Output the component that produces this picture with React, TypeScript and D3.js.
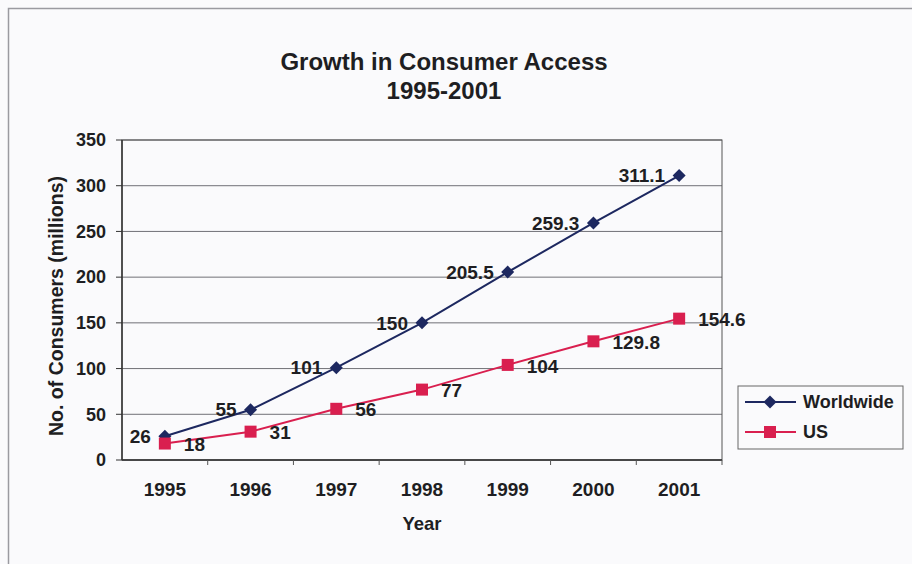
import React from "react";
import * as d3 from "d3";

const years = ["1995", "1996", "1997", "1998", "1999", "2000", "2001"];
const worldwide = [26, 55, 101, 150, 205.5, 259.3, 311.1];
const us = [18, 31, 56, 77, 104, 129.8, 154.6];
const yTicks = [0, 50, 100, 150, 200, 250, 300, 350];
const seriesNames = ["Worldwide", "US"];

const W = 912;
const H = 564;
const plot = { left: 122, right: 722, top: 140, bottom: 460 };
const navy = "#1d2860";
const red = "#d91f4f";
const ink = "#1e1e22";
const font = "'Liberation Sans', Arial, sans-serif";

export default function App() {
  const x = d3.scaleBand<string>().domain(years).range([plot.left, plot.right]);
  const y = d3.scaleLinear().domain([0, 350]).range([plot.bottom, plot.top]);
  const cx = (d: string) => (x(d) as number) + x.bandwidth() / 2;
  const line = d3
    .line<number>()
    .x((_, i) => cx(years[i]))
    .y((v) => y(v));

  const diamond = (px: number, py: number, r: number) =>
    `M${px},${py - r}L${px + r},${py}L${px},${py + r}L${px - r},${py}Z`;

  return (
    <svg
      width={W}
      height={H}
      style={{ position: "absolute", left: 0, top: 0, fontFamily: font }}
    >
      <rect x={0} y={0} width={W} height={H} fill="#fafafc" />
      <rect x={8.5} y={8.5} width={W + 20} height={H + 20} fill="none" stroke="#9a9aa0" strokeWidth={1.5} />

      <text x={444} y={62} dy="0.35em" textAnchor="middle" fontSize={24} fontWeight="bold" fill={ink}>
        Growth in Consumer Access
      </text>
      <text x={444} y={91} dy="0.35em" textAnchor="middle" fontSize={24} fontWeight="bold" fill={ink}>
        1995-2001
      </text>

      {/* gridlines */}
      {yTicks.map((t) => (
        <line key={t} x1={plot.left} x2={plot.right} y1={y(t)} y2={y(t)} stroke="#707076" strokeWidth={1} />
      ))}
      {/* plot border */}
      <rect
        x={plot.left}
        y={plot.top}
        width={plot.right - plot.left}
        height={plot.bottom - plot.top}
        fill="none"
        stroke="#555"
        strokeWidth={1}
      />
      <line x1={plot.left} x2={plot.left} y1={plot.top} y2={plot.bottom} stroke="#333" strokeWidth={1.5} />
      <line x1={plot.left} x2={plot.right} y1={plot.bottom} y2={plot.bottom} stroke="#333" strokeWidth={1.5} />

      {/* y ticks */}
      {yTicks.map((t) => (
        <g key={"yt" + t}>
          <line x1={plot.left - 6} x2={plot.left} y1={y(t)} y2={y(t)} stroke="#333" />
          <text x={106} y={y(t)} dy="0.35em" textAnchor="end" fontSize={18} fontWeight="bold" fill={ink}>
            {t}
          </text>
        </g>
      ))}
      {/* x ticks */}
      {years.map((yr) => (
        <line
          key={"xt" + yr}
          x1={(x(yr) as number) + x.bandwidth()}
          x2={(x(yr) as number) + x.bandwidth()}
          y1={plot.bottom}
          y2={plot.bottom + 5}
          stroke="#555"
        />
      ))}
      {years.map((yr) => (
        <text key={"xl" + yr} x={cx(yr)} y={489} dy="0.35em" textAnchor="middle" fontSize={19} fontWeight="bold" fill={ink}>
          {yr}
        </text>
      ))}

      <text x={422} y={524} dy="0.35em" textAnchor="middle" fontSize={18.5} fontWeight="bold" fill={ink}>
        Year
      </text>
      <text
        transform={`translate(56,306) rotate(-90)`}
        textAnchor="middle"
        dy="0.35em"
        fontSize={19.5}
        fontWeight="bold"
        fill={ink}
      >
        No. of Consumers (millions)
      </text>

      {/* series */}
      <path d={line(worldwide) || ""} fill="none" stroke={navy} strokeWidth={2} />
      <path d={line(us) || ""} fill="none" stroke={red} strokeWidth={2} />
      {worldwide.map((v, i) => (
        <path key={"wm" + i} d={diamond(cx(years[i]), y(v), 6.5)} fill={navy} />
      ))}
      {us.map((v, i) => (
        <rect key={"um" + i} x={cx(years[i]) - 6} y={y(v) - 6} width={12} height={12} fill={red} />
      ))}

      {worldwide.map((v, i) => (
        <text
          key={"wl" + i}
          x={cx(years[i]) - 14}
          y={y(v)}
          dy="0.35em"
          textAnchor="end"
          fontSize={19}
          fontWeight="bold"
          fill={ink}
        >
          {v}
        </text>
      ))}
      {us.map((v, i) => (
        <text
          key={"ul" + i}
          x={cx(years[i]) + 19}
          y={y(v) + 1}
          dy="0.35em"
          textAnchor="start"
          fontSize={19}
          fontWeight="bold"
          fill={ink}
        >
          {v}
        </text>
      ))}

      {/* legend */}
      <rect x={738} y={386} width={165} height={63} fill="#fafafc" stroke="#666" strokeWidth={1} />
      {seriesNames.map((name, i) => {
        const ly = 402 + i * 30;
        const col = i === 0 ? navy : red;
        return (
          <g key={name}>
            <line x1={745} x2={796} y1={ly} y2={ly} stroke={col} strokeWidth={2} />
            {i === 0 ? (
              <path d={diamond(770, ly, 6.5)} fill={col} />
            ) : (
              <rect x={764} y={ly - 6} width={12} height={12} fill={col} />
            )}
            <text x={803} y={ly} dy="0.35em" fontSize={18} fontWeight="bold" fill={ink}>
              {name}
            </text>
          </g>
        );
      })}
    </svg>
  );
}
